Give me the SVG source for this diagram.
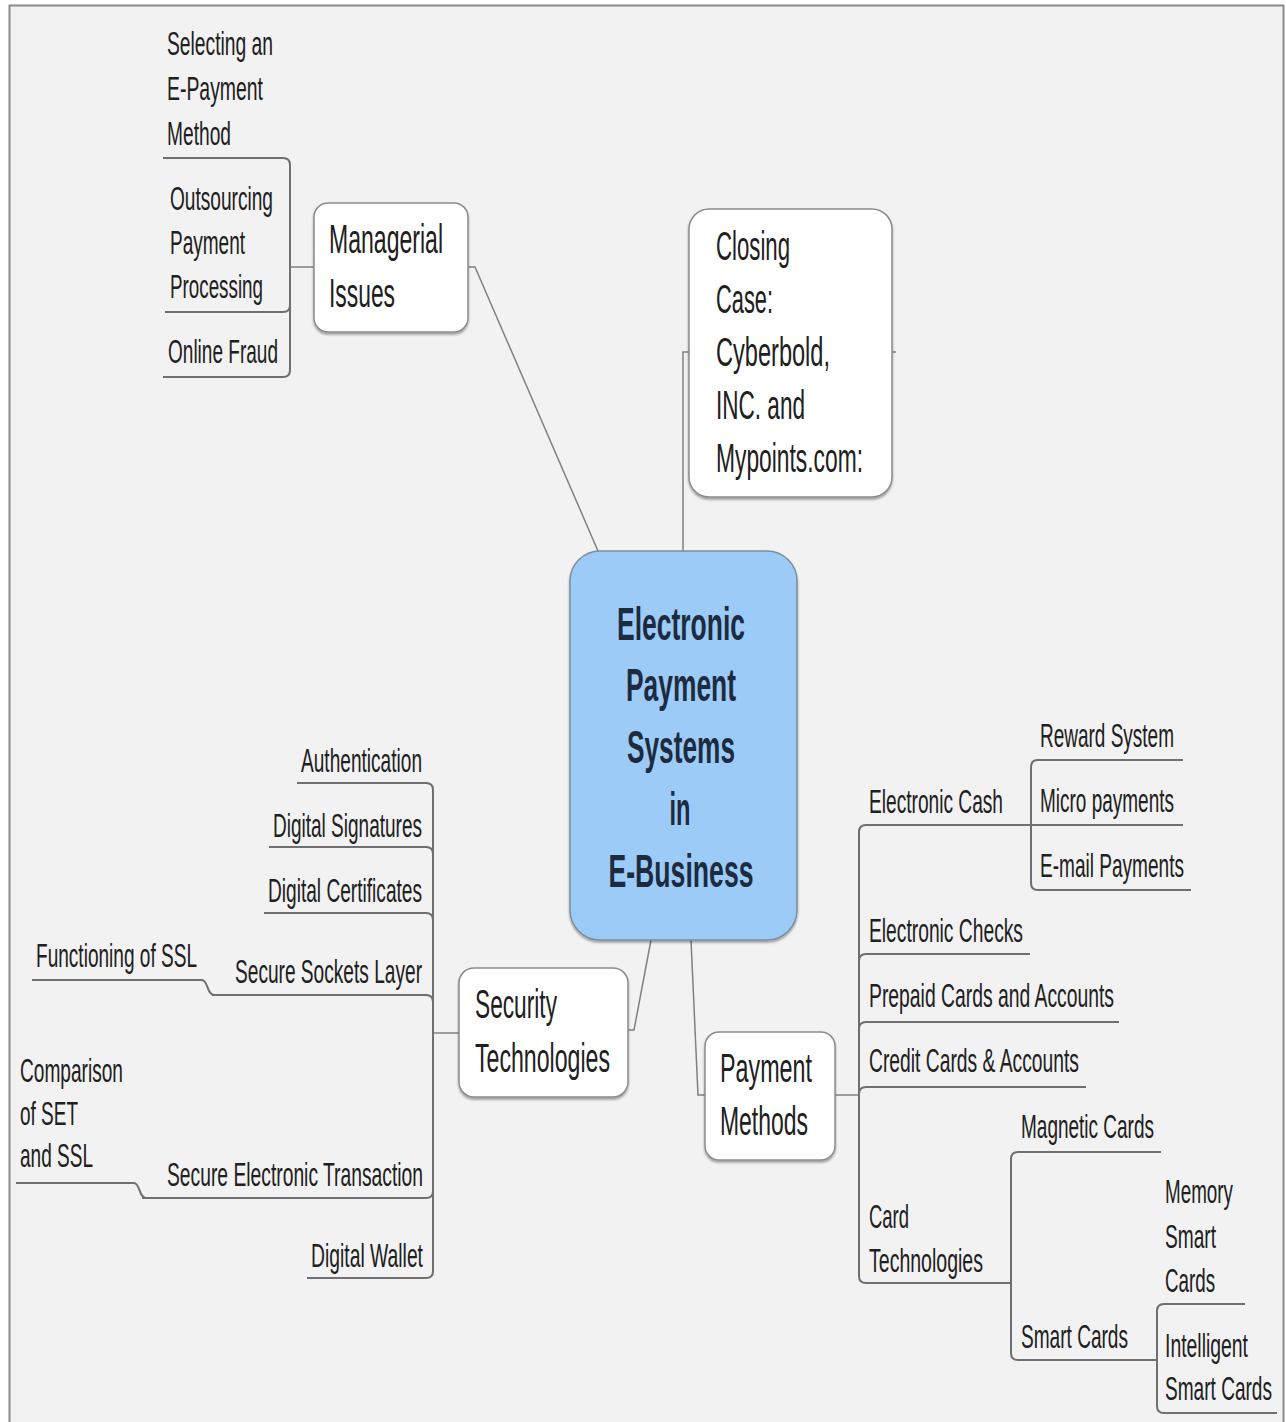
<svg xmlns="http://www.w3.org/2000/svg" width="1286" height="1422" viewBox="0 0 1286 1422">
  <style>
    .bg { fill: #f2f2f2; stroke: #8a8a8a; stroke-width: 2; }
    .box { fill: #ffffff; stroke: #8c8c8c; stroke-width: 1.5; filter: url(#sh); }
    .core { fill: #9dcbf7; stroke: #7d8d9c; stroke-width: 1.5; filter: url(#sh); }
    .wire { fill: none; stroke: #808080; stroke-width: 1.5; }
    .line { fill: none; stroke: #6f6f6f; stroke-width: 2; stroke-linejoin: round; }
    text { font-family: "Liberation Sans", Arial, sans-serif; fill: #202020; }
    .t { font-size: 33px; }
    .m { font-size: 41px; }
    .c { font-size: 46px; font-weight: bold; fill: #1c2b3f; text-anchor: middle; }
  </style>
  <defs>
    <filter id="sh" x="-10%" y="-10%" width="120%" height="125%">
      <feDropShadow dx="0" dy="2" stdDeviation="1" flood-color="#000" flood-opacity="0.35"/>
    </filter>
  </defs>

  <rect x="0" y="0" width="1286" height="1422" fill="#ffffff"/>
  <rect class="bg" x="9.5" y="5.5" width="1274" height="1430"/>

  <!-- connectors -->
  <g id="connectors">
    <!-- root links -->
    <path class="wire" d="M468,267 H475 L598,551"/>
    <path class="wire" d="M683,551 V352 H689"/>
    <path class="wire" d="M892,352 H896"/>
    <path class="wire" d="M651,940 L634,1030 H628"/>
    <path class="wire" d="M691,940 L698,1095 H705"/>

    <!-- managerial issues branch -->
    <path class="wire" d="M290,267 H314"/>
    <path class="line" d="M163,158 H283 Q290,158 290,165 V370 Q290,377 283,377 H163"/>
    <path class="line" d="M165,312 H283 Q290,312 290,305"/>

    <!-- security technologies branch -->
    <path class="wire" d="M433,1033 H459"/>
    <path class="line" d="M297,783 H426 Q433,783 433,790 V1271 Q433,1278 426,1278 H307"/>
    <path class="line" d="M269,847 H426 Q433,847 433,854"/>
    <path class="line" d="M264,913 H426 Q433,913 433,920"/>
    <path class="line" d="M212,995 H426 Q433,995 433,1002"/>
    <path class="line" d="M142,1198 H426 Q433,1198 433,1191"/>
    <path class="line" d="M32,980 H202 C208,980 207,995 214,995"/>
    <path class="line" d="M16,1183 H134 C140,1183 139,1198 146,1198"/>

    <!-- payment methods branch -->
    <path class="wire" d="M835,1095 H859"/>
    <path class="line" d="M1183,825 H866 Q859,825 859,832 V1276 Q859,1283 866,1283 H1011"/>
    <path class="line" d="M1030,954 H866 Q859,954 859,961"/>
    <path class="line" d="M1119,1022 H866 Q859,1022 859,1029"/>
    <path class="line" d="M1086,1087 H866 Q859,1087 859,1094"/>
    <path class="line" d="M1183,760 H1038 Q1031,760 1031,767 V883 Q1031,890 1038,890 H1191"/>
    <path class="line" d="M1161,1152 H1018 Q1011,1152 1011,1159 V1353 Q1011,1360 1018,1360 H1157"/>
    <path class="line" d="M1245,1304 H1164 Q1157,1304 1157,1311 V1406 Q1157,1413 1164,1413 H1277"/>
  </g>

  <!-- central topic -->
  <g id="root">
    <rect class="core" x="570" y="551" width="227" height="389" rx="30"/>
    <text class="c" x="681" y="640" textLength="128" lengthAdjust="spacingAndGlyphs">Electronic</text>
    <text class="c" x="681" y="701" textLength="110" lengthAdjust="spacingAndGlyphs">Payment</text>
    <text class="c" x="681" y="763" textLength="108" lengthAdjust="spacingAndGlyphs">Systems</text>
    <text class="c" x="680" y="825" textLength="21" lengthAdjust="spacingAndGlyphs">in</text>
    <text class="c" x="681" y="887" textLength="145" lengthAdjust="spacingAndGlyphs">E-Business</text>
  </g>

  <!-- main topics -->
  <g id="managerial">
    <rect class="box" x="314" y="203" width="154" height="129" rx="14"/>
    <text class="m" x="329" y="253" textLength="114" lengthAdjust="spacingAndGlyphs">Managerial</text>
    <text class="m" x="329" y="307" textLength="66" lengthAdjust="spacingAndGlyphs">Issues</text>
  </g>
  <g id="closing">
    <rect class="box" x="689" y="209" width="203" height="288" rx="20"/>
    <text class="m" x="716" y="260" textLength="74" lengthAdjust="spacingAndGlyphs">Closing</text>
    <text class="m" x="716" y="313" textLength="57" lengthAdjust="spacingAndGlyphs">Case:</text>
    <text class="m" x="716" y="366" textLength="114" lengthAdjust="spacingAndGlyphs">Cyberbold,</text>
    <text class="m" x="716" y="419" textLength="89" lengthAdjust="spacingAndGlyphs">INC. and</text>
    <text class="m" x="716" y="472" textLength="147" lengthAdjust="spacingAndGlyphs">Mypoints.com:</text>
  </g>
  <g id="security">
    <rect class="box" x="459" y="968" width="169" height="129" rx="15"/>
    <text class="m" x="475" y="1018" textLength="82" lengthAdjust="spacingAndGlyphs">Security</text>
    <text class="m" x="475" y="1072" textLength="135" lengthAdjust="spacingAndGlyphs">Technologies</text>
  </g>
  <g id="payment">
    <rect class="box" x="705" y="1032" width="130" height="128" rx="14"/>
    <text class="m" x="720" y="1082" textLength="92" lengthAdjust="spacingAndGlyphs">Payment</text>
    <text class="m" x="720" y="1135" textLength="88" lengthAdjust="spacingAndGlyphs">Methods</text>
  </g>

  <!-- managerial issues subtopics -->
  <g id="selecting">
    <text class="t" x="167" y="55" textLength="106" lengthAdjust="spacingAndGlyphs">Selecting an</text>
    <text class="t" x="167" y="100" textLength="96" lengthAdjust="spacingAndGlyphs">E-Payment</text>
    <text class="t" x="167" y="145" textLength="64" lengthAdjust="spacingAndGlyphs">Method</text>
  </g>
  <g id="outsourcing">
    <text class="t" x="170" y="210" textLength="103" lengthAdjust="spacingAndGlyphs">Outsourcing</text>
    <text class="t" x="170" y="254" textLength="75" lengthAdjust="spacingAndGlyphs">Payment</text>
    <text class="t" x="170" y="298" textLength="93" lengthAdjust="spacingAndGlyphs">Processing</text>
  </g>
  <g id="fraud">
    <text class="t" x="168" y="363" textLength="110" lengthAdjust="spacingAndGlyphs">Online Fraud</text>
  </g>

  <!-- security technologies subtopics -->
  <g id="authentication">
    <text class="t" x="301" y="772" textLength="121" lengthAdjust="spacingAndGlyphs">Authentication</text>
  </g>
  <g id="signatures">
    <text class="t" x="273" y="837" textLength="149" lengthAdjust="spacingAndGlyphs">Digital Signatures</text>
  </g>
  <g id="certificates">
    <text class="t" x="268" y="902" textLength="154" lengthAdjust="spacingAndGlyphs">Digital Certificates</text>
  </g>
  <g id="ssl">
    <text class="t" x="235" y="983" textLength="187" lengthAdjust="spacingAndGlyphs">Secure Sockets Layer</text>
  </g>
  <g id="ssl-functioning">
    <text class="t" x="36" y="967" textLength="161" lengthAdjust="spacingAndGlyphs">Functioning of SSL</text>
  </g>
  <g id="set">
    <text class="t" x="167" y="1186" textLength="256" lengthAdjust="spacingAndGlyphs">Secure Electronic Transaction</text>
  </g>
  <g id="set-ssl">
    <text class="t" x="20" y="1082" textLength="103" lengthAdjust="spacingAndGlyphs">Comparison</text>
    <text class="t" x="20" y="1125" textLength="58" lengthAdjust="spacingAndGlyphs">of SET</text>
    <text class="t" x="20" y="1167" textLength="73" lengthAdjust="spacingAndGlyphs">and SSL</text>
  </g>
  <g id="wallet">
    <text class="t" x="311" y="1267" textLength="112" lengthAdjust="spacingAndGlyphs">Digital Wallet</text>
  </g>

  <!-- payment methods subtopics -->
  <g id="ecash">
    <text class="t" x="869" y="813" textLength="134" lengthAdjust="spacingAndGlyphs">Electronic Cash</text>
  </g>
  <g id="reward">
    <text class="t" x="1040" y="747" textLength="134" lengthAdjust="spacingAndGlyphs">Reward System</text>
  </g>
  <g id="micro">
    <text class="t" x="1040" y="812" textLength="134" lengthAdjust="spacingAndGlyphs">Micro payments</text>
  </g>
  <g id="email">
    <text class="t" x="1040" y="877" textLength="144" lengthAdjust="spacingAndGlyphs">E-mail Payments</text>
  </g>
  <g id="checks">
    <text class="t" x="869" y="942" textLength="154" lengthAdjust="spacingAndGlyphs">Electronic Checks</text>
  </g>
  <g id="prepaid">
    <text class="t" x="869" y="1007" textLength="245" lengthAdjust="spacingAndGlyphs">Prepaid Cards and Accounts</text>
  </g>
  <g id="credit">
    <text class="t" x="869" y="1072" textLength="210" lengthAdjust="spacingAndGlyphs">Credit Cards &amp; Accounts</text>
  </g>
  <g id="cardtech">
    <text class="t" x="869" y="1228" textLength="40" lengthAdjust="spacingAndGlyphs">Card</text>
    <text class="t" x="869" y="1272" textLength="114" lengthAdjust="spacingAndGlyphs">Technologies</text>
  </g>
  <g id="magnetic">
    <text class="t" x="1021" y="1138" textLength="133" lengthAdjust="spacingAndGlyphs">Magnetic Cards</text>
  </g>
  <g id="smart">
    <text class="t" x="1021" y="1348" textLength="107" lengthAdjust="spacingAndGlyphs">Smart Cards</text>
  </g>
  <g id="memory">
    <text class="t" x="1165" y="1203" textLength="68" lengthAdjust="spacingAndGlyphs">Memory</text>
    <text class="t" x="1165" y="1248" textLength="51" lengthAdjust="spacingAndGlyphs">Smart</text>
    <text class="t" x="1165" y="1292" textLength="50" lengthAdjust="spacingAndGlyphs">Cards</text>
  </g>
  <g id="intelligent">
    <text class="t" x="1165" y="1357" textLength="83" lengthAdjust="spacingAndGlyphs">Intelligent</text>
    <text class="t" x="1165" y="1400" textLength="107" lengthAdjust="spacingAndGlyphs">Smart Cards</text>
  </g>
</svg>
